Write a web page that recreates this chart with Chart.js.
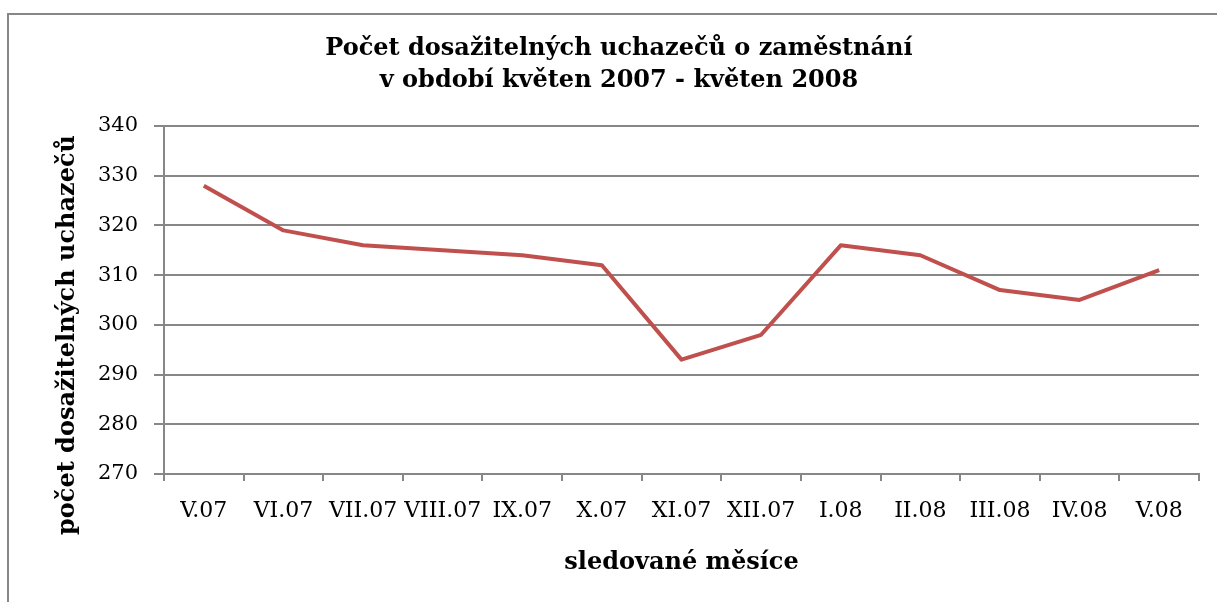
<!DOCTYPE html>
<html lang="cs">
<head>
<meta charset="utf-8">
<title>Počet dosažitelných uchazečů o zaměstnání</title>
<script src="https://cdn.jsdelivr.net/npm/chart.js@4.4.1/dist/chart.umd.min.js"></script>
<style>
  html, body { margin: 0; padding: 0; background: #fff; overflow: hidden; }
  .frame { position: absolute; left: 7px; top: 13px; width: 1400px; height: 800px; border: 2px solid #878787; }
  .wrap { position: absolute; left: 0; top: 0; width: 1217px; height: 602px; }
</style>
</head>
<body>
<div class="frame"></div>
<div class="wrap"><canvas id="chart" width="1217" height="602"></canvas></div>
<script>
// data
const months = ['V.07', 'VI.07', 'VII.07', 'VIII.07', 'IX.07', 'X.07', 'XI.07',
  'XII.07', 'I.08', 'II.08', 'III.08', 'IV.08', 'V.08'];
const applicants = [328, 319, 316, 315, 314, 312, 293, 298, 316, 314, 307, 305, 311];
const yTicks = [270, 280, 290, 300, 310, 320, 330, 340];

const titleLines = ['Počet dosažitelných uchazečů o zaměstnání', 'v období květen 2007 - květen 2008'];
const xTitle = 'sledované měsíce';
const yTitle = 'počet dosažitelných uchazečů';

const FONT = '"DejaVu Serif", "Liberation Serif", serif';
const GRID = '#878787';
const LINE = '#c0504d';

// y title drawn by hand, Excel sets it a bit below the plot middle
const yTitlePlugin = {
  id: 'yTitle',
  afterDraw(chart) {
    const {ctx, chartArea} = chart;
    ctx.save();
    ctx.translate(chartArea.left - 96, (chartArea.top + chartArea.bottom) / 2 + 35);
    ctx.rotate(-Math.PI / 2);
    ctx.font = `bold 24px ${FONT}`;
    ctx.textAlign = 'center';
    ctx.textBaseline = 'middle';
    ctx.fillStyle = '#000';
    ctx.fillText(yTitle, 0, 0);
    ctx.restore();
  },
};

new Chart(document.getElementById('chart'), {
  type: 'line',
  data: {
    labels: months,
    datasets: [{
      label: yTitle,
      data: applicants,
      borderColor: LINE,
      backgroundColor: LINE,
      borderWidth: 4,
      pointRadius: 0,
      tension: 0,
      borderJoinStyle: 'round',
    }],
  },
  options: {
    responsive: false,
    animation: false,
    layout: {padding: {left: 39, right: 18, top: 0, bottom: 0}},
    plugins: {
      legend: {display: false},
      tooltip: {enabled: false},
      title: {
        display: true,
        text: titleLines,
        color: '#000',
        font: {family: FONT, size: 24, weight: 'bold', lineHeight: 1.333},
        padding: {top: 33, bottom: 29},
      },
    },
    scales: {
      x: {
        offset: true,
        grid: {display: true, drawOnChartArea: false, offset: true, tickLength: 7, color: GRID, lineWidth: 2},
        border: {display: true, color: GRID, width: 2},
        ticks: {color: '#000', font: {family: FONT, size: 22}, padding: 17, maxRotation: 0, autoSkip: false},
        title: {display: true, text: xTitle, color: '#000', font: {family: FONT, size: 24, weight: 'bold'}, padding: {top: 0, bottom: 25}},
        afterFit: (s) => { s.height = 128; },
      },
      y: {
        min: 270,
        max: 340,
        afterBuildTicks: (s) => { s.ticks = yTicks.map((v) => ({value: v})); },
        grid: {color: GRID, lineWidth: 2, tickLength: 10},
        border: {display: true, color: GRID, width: 2},
        ticks: {color: '#000', font: {family: FONT, size: 21}, padding: 16},
        afterFit: (s) => { s.width = 125; },
      },
    },
  },
  plugins: [yTitlePlugin],
});
</script>
</body>
</html>
